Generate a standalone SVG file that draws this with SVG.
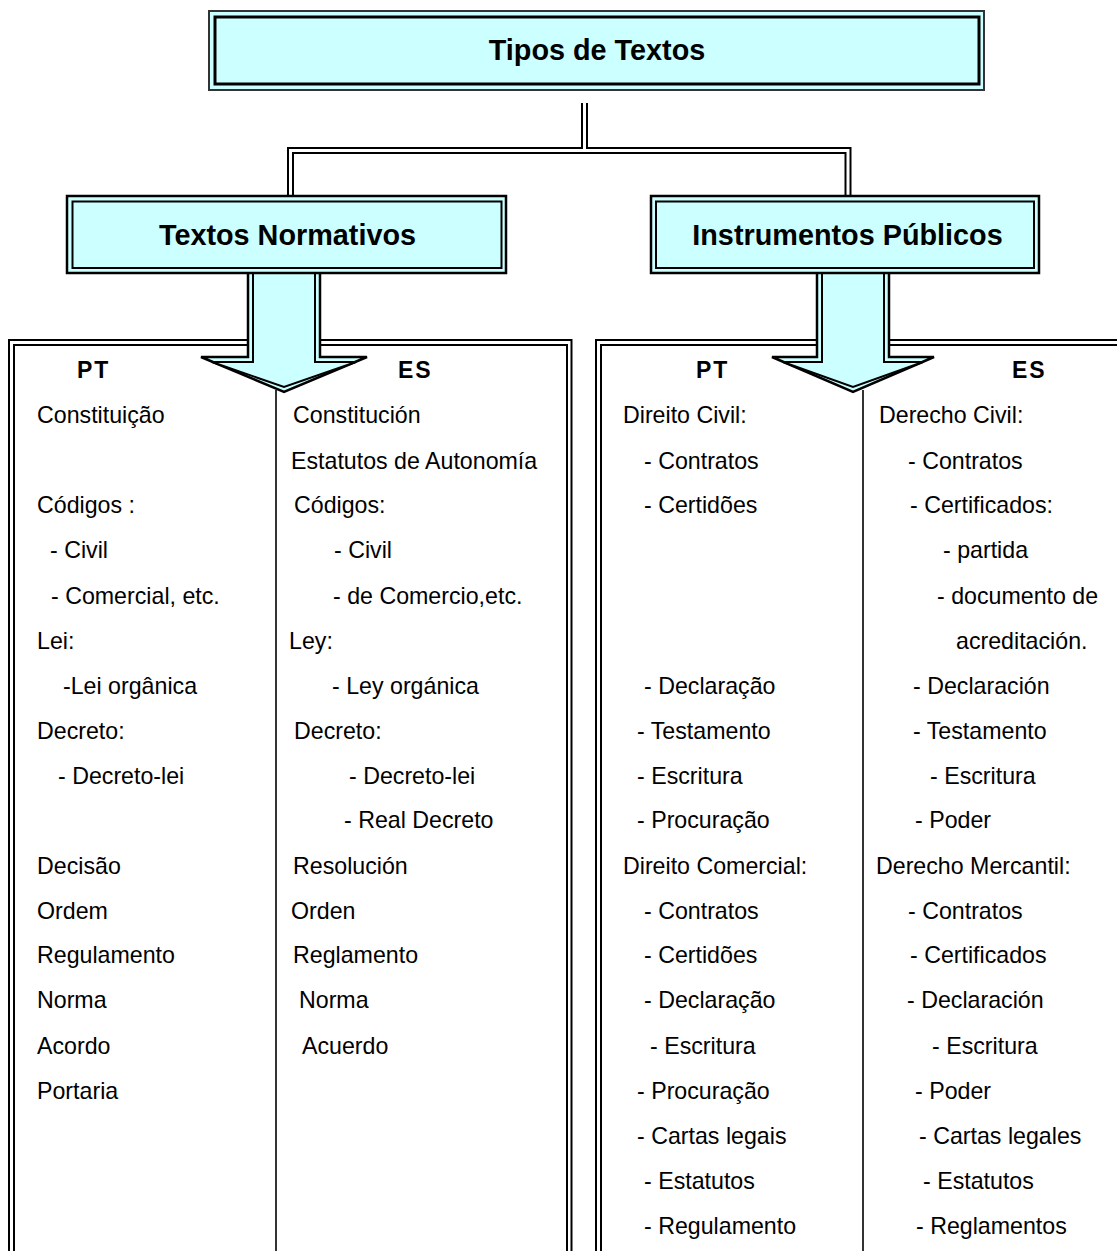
<svg xmlns="http://www.w3.org/2000/svg" width="1117" height="1251" viewBox="0 0 1117 1251">
  <style>
    .bg { fill: #ffffff; }
    .box-out { fill: #ccffff; stroke: #000; stroke-width: 2.5; }
    .box-in { fill: #ccffff; stroke: #000; stroke-width: 2; }
    .top-out { fill: #ccffff; stroke: #333; stroke-width: 2; }
    .top-in { fill: none; stroke: #000; stroke-width: 3; }
    .frame { fill: none; stroke: #000; stroke-width: 2; }
    .divider { stroke: #000; stroke-width: 1.6; }
    .wire-dark { fill: none; stroke: #000; stroke-width: 7; stroke-linejoin: miter; }
    .wire-light { fill: none; stroke: #fff; stroke-width: 3; stroke-linejoin: miter; }
    .arrow-out { fill: #ccffff; stroke: #000; stroke-width: 2.5; stroke-linejoin: miter; }
    .arrow-in { fill: #ccffff; stroke: #000; stroke-width: 2; stroke-linejoin: miter; }
    .title { font-family: "Liberation Sans", Arial, sans-serif; font-weight: bold; font-size: 28.8px; fill: #000; text-anchor: middle; }
    .head { font-family: "Liberation Sans", Arial, sans-serif; font-weight: bold; font-size: 23px; letter-spacing: 2px; fill: #000; }
    .body { font-family: "Liberation Sans", Arial, sans-serif; font-size: 23.2px; fill: #000; }
  </style>

  <rect class="bg" x="0" y="0" width="1117" height="1251"/>

  <!-- Root node -->
  <g id="node-tipos">
    <rect class="top-out" x="209" y="11" width="775" height="79"/>
    <rect class="top-in" x="215" y="17" width="764" height="67"/>
    <text class="title" x="597" y="60">Tipos de Textos</text>
  </g>

  <!-- Content panels -->
  <g id="node-normativos-lista">
    <rect class="frame" x="9" y="340" width="562.5" height="940"/>
    <rect class="frame" x="14" y="345" width="553" height="930"/>
    <line class="divider" x1="276" y1="390" x2="276" y2="1251"/>
    <text class="head" x="77" y="378">PT</text>
    <text class="head" x="398" y="378">ES</text>
    <g class="body">
      <text x="37" y="423">Constituição</text>
      <text x="37" y="513">Códigos :</text>
      <text x="50" y="558">- Civil</text>
      <text x="51" y="604">- Comercial, etc.</text>
      <text x="37" y="649">Lei:</text>
      <text x="63" y="694">-Lei orgânica</text>
      <text x="37" y="739">Decreto:</text>
      <text x="58" y="784">- Decreto-lei</text>
      <text x="37" y="874">Decisão</text>
      <text x="37" y="919">Ordem</text>
      <text x="37" y="963">Regulamento</text>
      <text x="37" y="1008">Norma</text>
      <text x="37" y="1054">Acordo</text>
      <text x="37" y="1099">Portaria</text>

      <text x="293" y="423">Constitución</text>
      <text x="291" y="469">Estatutos de Autonomía</text>
      <text x="294" y="513">Códigos:</text>
      <text x="334" y="558">- Civil</text>
      <text x="333" y="604">- de Comercio,etc.</text>
      <text x="289" y="649">Ley:</text>
      <text x="332" y="694">- Ley orgánica</text>
      <text x="294" y="739">Decreto:</text>
      <text x="349" y="784">- Decreto-lei</text>
      <text x="344" y="828">- Real Decreto</text>
      <text x="293" y="874">Resolución</text>
      <text x="291" y="919">Orden</text>
      <text x="293" y="963">Reglamento</text>
      <text x="299" y="1008">Norma</text>
      <text x="302" y="1054">Acuerdo</text>
    </g>
  </g>

  <g id="node-instrumentos-lista">
    <rect class="frame" x="596" y="340" width="560" height="940"/>
    <rect class="frame" x="601" y="345" width="550" height="930"/>
    <line class="divider" x1="863" y1="390" x2="863" y2="1251"/>
    <text class="head" x="696" y="378">PT</text>
    <text class="head" x="1012" y="378">ES</text>
    <g class="body">
      <text x="623" y="423">Direito Civil:</text>
      <text x="644" y="469">- Contratos</text>
      <text x="644" y="513">- Certidões</text>
      <text x="644" y="694">- Declaração</text>
      <text x="637" y="739">- Testamento</text>
      <text x="637" y="784">- Escritura</text>
      <text x="637" y="828">- Procuração</text>
      <text x="623" y="874">Direito Comercial:</text>
      <text x="644" y="919">- Contratos</text>
      <text x="644" y="963">- Certidões</text>
      <text x="644" y="1008">- Declaração</text>
      <text x="650" y="1054">- Escritura</text>
      <text x="637" y="1099">- Procuração</text>
      <text x="637" y="1144">- Cartas legais</text>
      <text x="644" y="1189">- Estatutos</text>
      <text x="644" y="1234">- Regulamento</text>

      <text x="879" y="423">Derecho Civil:</text>
      <text x="908" y="469">- Contratos</text>
      <text x="910" y="513">- Certificados:</text>
      <text x="943" y="558">- partida</text>
      <text x="937" y="604">- documento de</text>
      <text x="956" y="649">acreditación.</text>
      <text x="913" y="694">- Declaración</text>
      <text x="913" y="739">- Testamento</text>
      <text x="930" y="784">- Escritura</text>
      <text x="915" y="828">- Poder</text>
      <text x="876" y="874">Derecho Mercantil:</text>
      <text x="908" y="919">- Contratos</text>
      <text x="910" y="963">- Certificados</text>
      <text x="907" y="1008">- Declaración</text>
      <text x="932" y="1054">- Escritura</text>
      <text x="915" y="1099">- Poder</text>
      <text x="919" y="1144">- Cartas legales</text>
      <text x="923" y="1189">- Estatutos</text>
      <text x="916" y="1234">- Reglamentos</text>
    </g>
  </g>

  <!-- Connectors: double-line elbow and block arrows -->
  <g id="connectors">
    <path class="wire-dark" d="M290.5,197 V150.5 H848 V197"/>
    <path class="wire-dark" d="M584.5,103 V150.5"/>
    <path class="wire-light" d="M290.5,197 V150.5 H848 V197"/>
    <path class="wire-light" d="M584.5,103 V150.5"/>

    <polygon class="arrow-out" points="248,267 320,267 320,357 367,357 284,392 201,357 248,357"/>
    <polygon class="arrow-in" points="253,272 315,272 315,362 356,362 284,387 212,362 253,362"/>

    <polygon class="arrow-out" points="817,267 889,267 889,357 934,357 853,392 772,357 817,357"/>
    <polygon class="arrow-in" points="822,272 884,272 884,362 923,362 853,387 783,362 822,362"/>
  </g>

  <!-- Second-level nodes -->
  <g id="node-normativos">
    <rect class="box-out" x="67" y="196" width="439" height="77"/>
    <rect class="box-in" x="72.5" y="201.5" width="429" height="66.5"/>
    <text class="title" x="287.5" y="245">Textos Normativos</text>
  </g>

  <g id="node-instrumentos">
    <rect class="box-out" x="651" y="196" width="388" height="77"/>
    <rect class="box-in" x="656" y="201.5" width="378" height="66.5"/>
    <text class="title" x="847.5" y="245">Instrumentos Públicos</text>
  </g>
</svg>
